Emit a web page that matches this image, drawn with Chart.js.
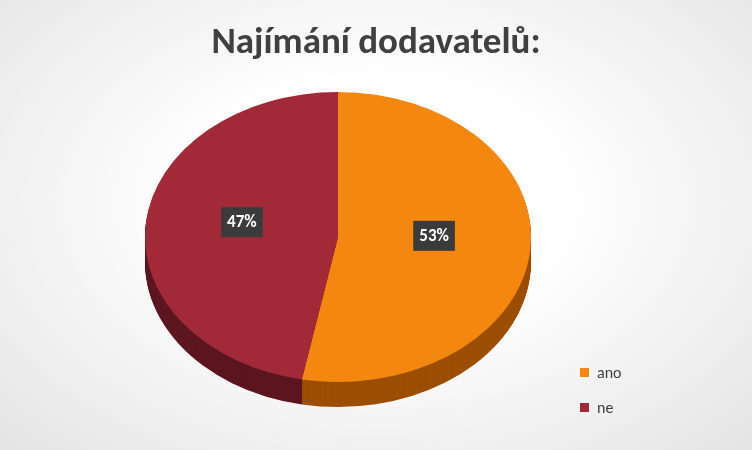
<!DOCTYPE html>
<html>
<head>
<meta charset="utf-8">
<script src="https://cdn.jsdelivr.net/npm/chart.js@4/dist/chart.umd.min.js"></script>
<style>
  body { margin: 0; }
  #wrap { position: relative; width: 752px; height: 450px;
    background: radial-gradient(ellipse at 50% 45%, #ffffff 35%, #e4e4e4 100%);
    font-family: Calibri, Carlito, "Open Sans", sans-serif; }
  #title { position: absolute; top: 18px; left: 0; width: 752px; text-align: center;
    font-size: 37px; font-weight: bold; color: #404040; }
  #legend { position: absolute; left: 580px; top: 355px; font-size: 16px; color: #404040; }
  #legend div { height: 35px; display: flex; align-items: center; }
  #legend span { display: inline-block; width: 9px; height: 9px; margin-right: 8px; }
  canvas { position: absolute; left: 0; top: 0; }
</style>
</head>
<body>
<div id="wrap">
  <canvas id="c" width="752" height="450"></canvas>
  <div id="title">Najímání dodavatelů:</div>
  <div id="legend"></div>
</div>
<script>
const categories = ['ano', 'ne'];
const values = [53, 47];
const colors = ['#F4870F', '#A22A38'];
const sideColors = ['#9C4E05', '#5C1620'];

const CY = 237, RX = 193, RY = 145, DEPTH = 25;
const K = RY / RX;

document.getElementById('legend').innerHTML = categories.map((c, i) =>
  `<div><span style="background:${colors[i]}"></span>${c}</div>`).join('');

const squash = {
  id: 'squash',
  beforeDatasetsDraw(chart) {
    const ctx = chart.ctx;
    const arcs = chart.getDatasetMeta(0).data;
    ctx.save();
    ctx.translate(0, CY);
    ctx.scale(1, K);
    ctx.translate(0, -CY);
    for (let d = DEPTH; d > 0; d--) {
      arcs.forEach((a, i) => {
        ctx.beginPath();
        ctx.moveTo(a.x, a.y + d / K);
        ctx.arc(a.x, a.y + d / K, a.outerRadius, a.startAngle, a.endAngle);
        ctx.closePath();
        ctx.fillStyle = sideColors[i];
        ctx.fill();
      });
    }
  },
  afterDatasetsDraw(chart) {
    const ctx = chart.ctx;
    ctx.restore();
    const arcs = chart.getDatasetMeta(0).data;
    ctx.save();
    ctx.font = 'bold 17px Calibri, Carlito, "Open Sans", sans-serif';
    ctx.textAlign = 'center';
    ctx.textBaseline = 'middle';
    arcs.forEach((a, i) => {
      const p = a.tooltipPosition();
      const x = p.x, y = CY + (p.y - CY) * K - 8;
      const txt = values[i] + '%';
      const w = ctx.measureText(txt).width + 12;
      ctx.fillStyle = '#3b3b3b';
      ctx.fillRect(x - w / 2, y - 15, w, 30);
      ctx.fillStyle = '#ffffff';
      ctx.fillText(txt, x, y + 1);
    });
    ctx.restore();
  }
};

new Chart(document.getElementById('c'), {
  type: 'pie',
  data: {
    labels: categories,
    datasets: [{ data: values, backgroundColor: colors, borderWidth: 0 }]
  },
  options: {
    responsive: false,
    animation: false,
    layout: { padding: { left: 145, right: 752 - 145 - 2 * RX, top: CY - RX, bottom: 450 - CY - RX } },
    plugins: { legend: { display: false }, tooltip: { enabled: false } }
  },
  plugins: [squash]
});
</script>
</body>
</html>
